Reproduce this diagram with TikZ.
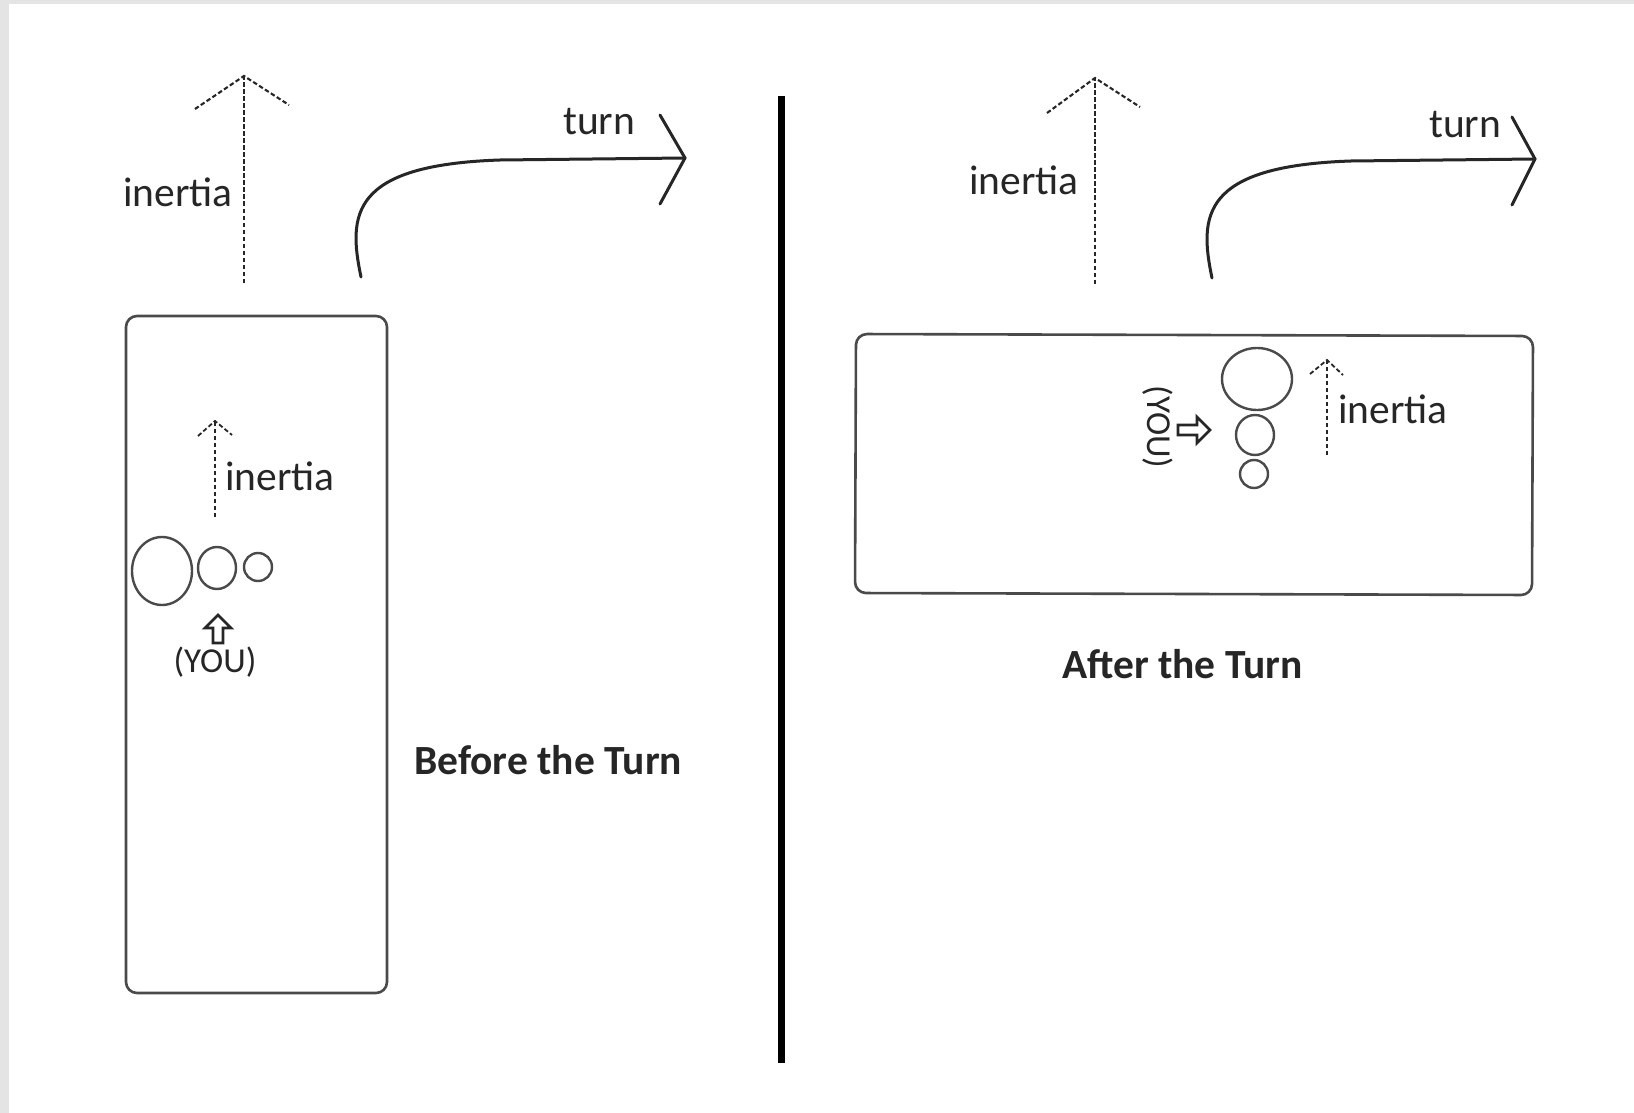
\documentclass[tikz,border=0pt]{standalone}
\usepackage{fontspec}
\setmainfont{Carlito}
\definecolor{ink}{HTML}{262626}
\definecolor{edge}{HTML}{4A4A4A}
\definecolor{framegray}{HTML}{E4E4E4}
\begin{document}
\begin{tikzpicture}[x=1pt,y=-1pt,
  lbl/.style={inner sep=0pt, text=ink, font=\fontsize{41.5}{48}\selectfont},
  title/.style={inner sep=0pt, text=ink, font=\fontsize{41.5}{48}\selectfont\bfseries},
  youlbl/.style={inner sep=0pt, text=ink, font=\fontsize{35}{40}\selectfont},
  dashline/.style={draw=ink, line width=2.1pt, dash pattern=on 4.5pt off 2.5pt},
  turnline/.style={draw=ink, line width=3pt, line cap=round, line join=round},
  carbox/.style={draw=edge, line width=2.6pt, rounded corners=11pt},
  body/.style={draw=edge, line width=2.4pt},
  youarrow/.style={draw=ink, line width=2.8pt, fill=white, line join=miter}]

% page frame
\fill[framegray] (0,0) rectangle (1634,1113);
\fill[white] (9,4) rectangle (1634,1113);
\useasboundingbox (0,0) rectangle (1634,1113);

% ---------------- before the turn ----------------
% straight-ahead inertia
\coordinate (b-in-bot) at (244,283);
\coordinate (b-in-tip) at (244,76);
\draw[dashline] (b-in-bot) -- (b-in-tip);
\draw[dashline] (195,109) -- (b-in-tip) -- (289,105);
\node[lbl, anchor=base west] (b-in-lbl) at (123,206) {inertia};

% turning path
\coordinate (b-turn-start) at (361,277);
\coordinate (b-turn-tip) at (685,158);
\draw[turnline] (b-turn-start) .. controls (348,215) and (350,165) .. (500,160) -- (b-turn-tip);
\draw[turnline] (660,115) -- (b-turn-tip) -- (660,204);
\node[lbl, anchor=base west] (b-turn-lbl) at (563,135) {turn};

% car
\draw[carbox] (126,316) rectangle (387,993);

% passengers
\draw[body] (162,571) ellipse [x radius=30, y radius=34];
\draw[body] (217,568) ellipse [x radius=19, y radius=21];
\draw[body] (258,567) circle [radius=14];

% inertia inside the car
\coordinate (b-cin-bot) at (215,517);
\coordinate (b-cin-tip) at (215,421);
\draw[dashline] (b-cin-bot) -- (b-cin-tip);
\draw[dashline, line width=1.8pt] (198,436) -- (b-cin-tip) -- (232,435);
\node[lbl, anchor=base west] (b-cin-lbl) at (225,490) {inertia};

% you marker
\draw[youarrow] (218,615) -- (231,628) -- (223,628) -- (223,643) -- (213,643) -- (213,628) -- (205,628) -- cycle;
\node[youlbl] (b-you) at (215,662) {(YOU)};

\node[title, anchor=base west] (b-title) at (414,774) {Before the Turn};

% divider
\draw[line width=7pt, black] (781,96) -- (781,1063);

% ---------------- after the turn ----------------
\coordinate (a-in-bot) at (1095,284);
\coordinate (a-in-tip) at (1095,78);
\draw[dashline] (a-in-bot) -- (a-in-tip);
\draw[dashline] (1047,113) -- (a-in-tip) -- (1140,107);
\node[lbl, anchor=base west] (a-in-lbl) at (969,195) {inertia};

\coordinate (a-turn-start) at (1212,278);
\coordinate (a-turn-tip) at (1535,159);
\draw[turnline] (a-turn-start) .. controls (1199,216) and (1201,166) .. (1351,161) -- (a-turn-tip);
\draw[turnline] (1512,117) -- (a-turn-tip) -- (1512,205);
\node[lbl, anchor=base west] (a-turn-lbl) at (1429,138) {turn};

% car, slightly skewed
\draw[carbox] (856,334) -- (1533,336) -- (1532,595) -- (855,593) -- cycle;

\draw[body] (1257,379) ellipse [x radius=35, y radius=31];
\draw[body] (1255,435) ellipse [x radius=19, y radius=20];
\draw[body] (1254,474) circle [radius=14];

\coordinate (a-cin-bot) at (1327,455);
\coordinate (a-cin-tip) at (1327,360);
\draw[dashline] (a-cin-bot) -- (a-cin-tip);
\draw[dashline, line width=1.8pt] (1310,374) -- (a-cin-tip) -- (1343,375);
\node[lbl, anchor=base west] (a-cin-lbl) at (1338,423) {inertia};

\draw[youarrow] (1210,430) -- (1197,443) -- (1197,435) -- (1178,435) -- (1178,425) -- (1197,425) -- (1197,417) -- cycle;
\node[youlbl, rotate=-90] (a-you) at (1158,427) {(YOU)};

\node[title, anchor=base west] (a-title) at (1062,678) {After the Turn};
\end{tikzpicture}
\end{document}
